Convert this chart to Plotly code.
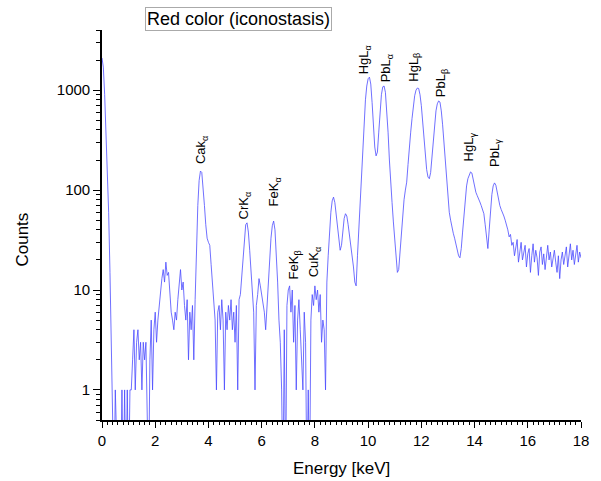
import math
import plotly.graph_objects as go

# ---- data (counts per 0.05 keV channel) ----
STEP_KEV = 0.05
COUNTS_0_2 = [2100, 1700, 900, 400, 150, 60, 15, 4, 1, 0,
              1, 0, 0, 0, 0, 1, 0, 1, 0, 1,
              0, 1, 1, 2, 4, 1, 3, 4, 2, 3,
              1, 3, 2, 3, 1, 0, 2, 5, 1, 4]
COUNTS_2_4 = [6, 3, 5, 7, 11, 13, 16, 12, 19, 14,
              15, 9, 6, 5, 4, 6, 5, 8, 11, 16,
              10, 12, 7, 5, 8, 2, 6, 4, 7, 2,
              8, 25, 70, 125, 155, 150, 110, 70, 45, 33]
COUNTS_4_6 = [30, 28, 18, 12, 7, 5, 1, 6, 7, 4,
              8, 5, 1, 6, 4, 7, 5, 8, 4, 6,
              3, 7, 1, 8, 9, 14, 22, 35, 45, 47,
              38, 25, 16, 10, 6, 1, 7, 9, 13, 11]
COUNTS_6_8 = [9, 8, 6, 4, 7, 10, 20, 33, 44, 49,
              40, 24, 12, 5, 3, 1, 0, 4, 0, 7,
              10, 11, 6, 10, 3, 7, 1, 5, 8, 4,
              2, 1, 6, 3, 0, 1, 0, 5, 9, 7]
COUNTS_8_10 = [11, 8, 10, 6, 9, 3, 5, 4, 1, 12,
               22, 40, 60, 78, 85, 75, 55, 42, 30, 25,
               28, 40, 52, 58, 55, 45, 36, 30, 24, 17,
               12, 11, 22, 40, 80, 150, 280, 520, 800, 1100]
COUNTS_10_12 = [1300, 1350, 1150, 750, 420, 270, 220, 240, 380, 650,
                900, 1080, 1100, 950, 650, 380, 200, 110, 75, 48,
                33, 20, 15, 16, 25, 42, 60, 80, 100, 120,
                180, 280, 380, 520, 700, 880, 1000, 1050, 1040, 900]
COUNTS_12_14 = [700, 480, 320, 220, 160, 135, 130, 150, 210, 320,
                470, 620, 730, 780, 760, 620, 450, 300, 200, 120,
                85, 60, 50, 42, 37, 33, 28, 24, 22, 21,
                26, 38, 55, 80, 110, 130, 145, 152, 148, 125]
COUNTS_14_16 = [108, 95, 88, 80, 76, 70, 64, 58, 45, 32,
                26, 40, 62, 90, 110, 118, 112, 95, 80, 70,
                64, 60, 55, 50, 45, 40, 34, 36, 28, 30,
                22, 27, 32, 19, 24, 30, 20, 25, 28, 17]
COUNTS_16_18 = [23, 26, 15, 22, 29, 19, 25, 21, 14, 24,
                27, 18, 23, 16, 22, 28, 20, 24, 17, 21,
                25, 19, 15, 22, 13, 20, 24, 18, 22, 27,
                17, 23, 29, 20, 25, 18, 23, 28, 19, 24, 21]

PEAK_LABELS = ["Cak<sub>α</sub>", "CrK<sub>α</sub>", "FeK<sub>α</sub>", "FeK<sub>β</sub>",
               "CuK<sub>α</sub>", "HgL<sub>α</sub>", "PbL<sub>α</sub>", "HgL<sub>β</sub>",
               "PbL<sub>β</sub>", "HgL<sub>γ</sub>", "PbL<sub>γ</sub>"]
PEAK_LABEL_X = [3.72, 5.35, 6.47, 7.25, 8.0, 9.87, 10.68, 11.73, 12.74, 13.82, 14.78]
PEAK_LABEL_Y = [174, 49, 65, 12.3, 12.9, 1380, 1150, 1150, 813, 186, 164]

X_TICKS = [0, 2, 4, 6, 8, 10, 12, 14, 16, 18]
Y_TICKS = [1, 10, 100, 1000]
Y_TICK_TEXT = ["1", "10", "100", "1000"]
TITLE = "Red color (iconostasis)"

counts = (COUNTS_0_2 + COUNTS_2_4 + COUNTS_4_6 + COUNTS_6_8 + COUNTS_8_10 +
          COUNTS_10_12 + COUNTS_12_14 + COUNTS_14_16 + COUNTS_16_18)
energy = [round(i * STEP_KEV, 2) for i in range(len(counts))]
# zero counts cannot sit on a log axis: draw them below the visible range
plot_counts = [c if c > 0 else 0.1 for c in counts]

FONT = "Liberation Sans, Arial, sans-serif"

fig = go.Figure()
fig.add_trace(go.Scatter(x=energy, y=plot_counts, mode="lines",
                         line=dict(color="rgb(75,75,255)", width=0.8),
                         showlegend=False, hoverinfo="skip"))

minor_y = []
for dec in [0.1, 1, 10, 100, 1000]:
    for m in range(2, 10):
        v = m * dec
        if 0.5 <= v <= 4000:
            minor_y.append(v)

fig.update_layout(
    width=601, height=481,
    margin=dict(l=102, r=17, t=30, b=61),
    paper_bgcolor="white", plot_bgcolor="white",
    font=dict(family=FONT, color="black", size=15),
    xaxis=dict(range=[0, 18], tickvals=X_TICKS, ticks="outside", ticklen=6,
               tickwidth=1.3, tickcolor="black", showline=True, linecolor="black",
               linewidth=1.6, showgrid=False, zeroline=False,
               tickfont=dict(size=15, family=FONT),
               minor=dict(dtick=0.2, ticks="outside", ticklen=3, tickwidth=1,
                          tickcolor="black", showgrid=False)),
    yaxis=dict(type="log", range=[math.log10(0.5), math.log10(4000)],
               tickvals=Y_TICKS, ticktext=Y_TICK_TEXT, ticks="outside", ticklen=7,
               tickwidth=1.3, tickcolor="black", showline=True, linecolor="black",
               linewidth=1.6, showgrid=False, zeroline=False,
               tickfont=dict(size=15, family=FONT),
               minor=dict(tickvals=minor_y, ticks="outside", ticklen=4, tickwidth=1,
                          tickcolor="black", showgrid=False)),
)

annotations = []
for txt, xv, yv in zip(PEAK_LABELS, PEAK_LABEL_X, PEAK_LABEL_Y):
    annotations.append(dict(x=xv, y=math.log10(yv), xref="x", yref="y", text=txt,
                            textangle=-90, showarrow=False, xanchor="center",
                            yanchor="bottom", font=dict(size=13, family=FONT)))
annotations.append(dict(x=0.285, y=1.028, xref="paper", yref="paper", text=TITLE,
                        showarrow=False, xanchor="center", yanchor="middle",
                        bordercolor="#aaaaaa", borderwidth=1, borderpad=1,
                        font=dict(size=18, family=FONT)))
annotations.append(dict(x=-0.168, y=0.4615, xref="paper", yref="paper", text="Counts",
                        textangle=-90, showarrow=False, xanchor="center",
                        yanchor="middle", font=dict(size=17, family=FONT)))
annotations.append(dict(x=0.4995, y=-0.1256, xref="paper", yref="paper",
                        text="Energy [keV]", showarrow=False, xanchor="center",
                        yanchor="middle", font=dict(size=17, family=FONT)))
fig.update_layout(annotations=annotations)

fig.write_html("out.html")
